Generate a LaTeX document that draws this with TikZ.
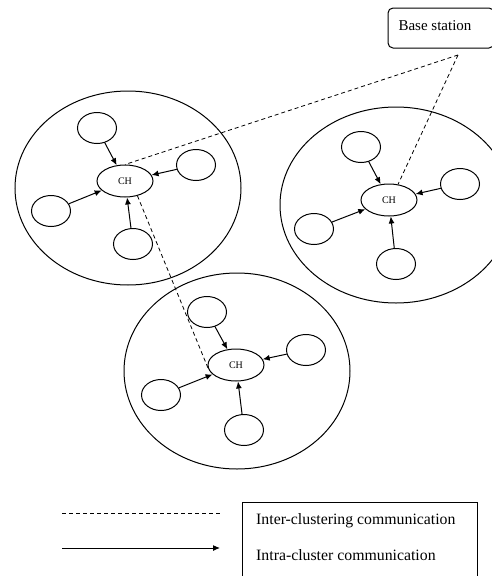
\documentclass[tikz,border=0pt]{standalone}
\usepackage{fontspec}
\setmainfont{Liberation Serif}
\usetikzlibrary{shapes.geometric,arrows.meta}
\begin{document}
\begin{tikzpicture}[x=1pt,y=-1pt,
  cluster/.style={draw, ellipse, minimum width=226pt, minimum height=194pt, line width=1pt, inner sep=0pt},
  sensor/.style={draw, ellipse, minimum width=39pt, minimum height=31pt, line width=1pt, inner sep=0pt},
  head/.style={draw, ellipse, minimum width=56pt, minimum height=32pt, line width=1pt, inner sep=0pt, font=\fontsize{10}{12}\selectfont},
  intra/.style={-{Latex[length=7pt,width=6pt]}, line width=1pt},
  inter/.style={line width=0.8pt, dash pattern=on 4pt off 3pt},
  lbl/.style={anchor=west, inner sep=0pt, font=\fontsize{15.8}{19}\selectfont},
]
\useasboundingbox (0,0) rectangle (491,576);
\fill[white] (0,0) rectangle (491,576);

% clusters
\node[cluster] (c1) at (128,188) {};
\node[cluster, minimum width=232pt, minimum height=196pt] (c2) at (396,205) {};
\node[cluster, minimum height=196pt] (c3) at (237,371) {};

% base station
\node[draw, rounded corners=5pt, line width=1pt, minimum width=106pt, minimum height=40pt, inner sep=0pt] (bs) at (441,28) {};
\node[font=\fontsize{15}{18}\selectfont, inner sep=0pt] (bst) at (435,26) {Base station};
\coordinate (bsp) at (458,55);

% cluster 1
\node[head] (h1) at (125,181) {CH};
\node[sensor] (s11) at (97,128) {};
\node[sensor] (s12) at (196,165) {};
\node[sensor] (s13) at (51,211) {};
\node[sensor] (s14) at (133,244) {};
\draw[intra] (s11) -- (h1);
\draw[intra] (s12) -- (h1);
\draw[intra] (s13) -- (h1);
\draw[intra] (s14) -- (h1);

% cluster 2
\node[head] (h2) at (389,200) {CH};
\node[sensor] (s21) at (361,147) {};
\node[sensor] (s22) at (460,184) {};
\node[sensor] (s23) at (314,229) {};
\node[sensor] (s24) at (396,264) {};
\draw[intra] (s21) -- (h2);
\draw[intra] (s22) -- (h2);
\draw[intra] (s23) -- (h2);
\draw[intra] (s24) -- (h2);

% cluster 3
\node[head] (h3) at (236,365) {CH};
\node[sensor] (s31) at (207,312) {};
\node[sensor] (s32) at (306,350) {};
\node[sensor] (s33) at (161,395) {};
\node[sensor] (s34) at (244,430) {};
\draw[intra] (s31) -- (h3);
\draw[intra] (s32) -- (h3);
\draw[intra] (s33) -- (h3);
\draw[intra] (s34) -- (h3);

% inter-cluster links
\draw[inter] (bsp) -- (h1.north);
\draw[inter] (bsp) -- (h2.60);
\draw[inter] (h1.-50) -- (h3.190);

% legend
\coordinate (la1) at (62,513);
\coordinate (la2) at (220,513);
\coordinate (lb1) at (62,548);
\coordinate (lb2) at (220,548);
\draw[inter] (la1) -- (la2);
\draw[intra] (lb1) -- (lb2);
\coordinate (lbox1) at (242,578);
\coordinate (lbox2) at (477,502);
\draw[line width=1pt] (lbox1) |- (lbox2) -- (lbox2 |- lbox1);
\node[lbl] (t1) at (256,521) {Inter-clustering communication};
\node[lbl] (t2) at (256,555) {Intra-cluster communication};
\end{tikzpicture}
\end{document}
